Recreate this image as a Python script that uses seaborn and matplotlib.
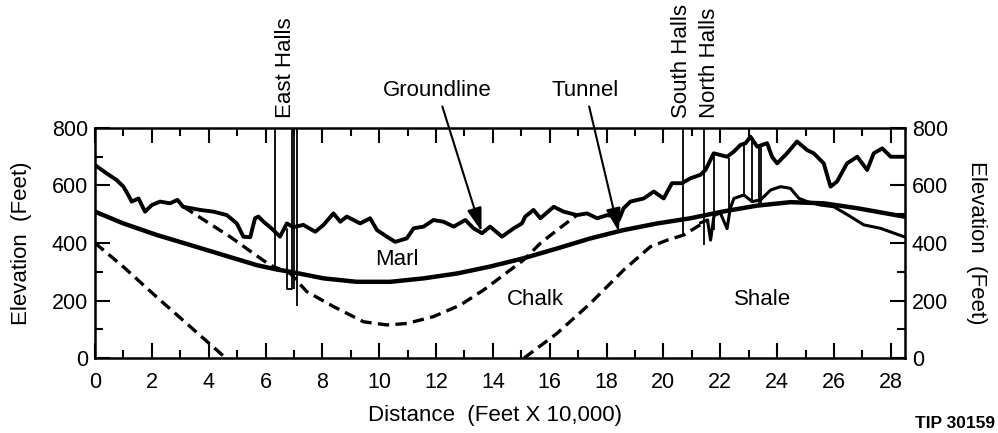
import matplotlib
matplotlib.use('Agg')
import matplotlib.pyplot as plt
import seaborn as sns
from matplotlib.ticker import MultipleLocator

# groundline (surface elevation)
ground_x = [0, 0.41, 0.76, 1.0, 1.17, 1.29, 1.53, 1.76, 2.0, 2.29, 2.64, 2.9, 3.1, 3.7, 4.17, 4.64,
            4.99, 5.22, 5.46, 5.63, 5.75, 5.93, 6.22, 6.51, 6.75, 6.98, 7.33, 7.75, 8.04, 8.39, 8.63,
            8.86, 9.33, 9.68, 9.92, 10.27, 10.56, 10.97, 11.21, 11.56, 11.91, 12.26, 12.62, 13.03,
            13.32, 13.62, 13.9, 14.32, 14.73, 15.02, 15.14, 15.43, 15.67, 16.14, 16.49, 16.96, 17.31,
            17.67, 18.02, 18.31, 18.43, 18.6, 18.84, 19.31, 19.66, 20.01, 20.3, 20.65, 20.95, 21.3,
            21.48, 21.77, 22.24, 22.48, 22.71, 22.89, 23.06, 23.3, 23.47, 23.65, 23.82, 24.0, 24.35,
            24.7, 25.06, 25.29, 25.64, 25.88, 26.11, 26.46, 26.82, 27.17, 27.4, 27.7, 28.0, 28.46]
ground_y = [671, 642, 619, 596, 567, 544, 555, 509, 532, 544, 538, 550, 526, 515, 509, 497,
            468, 422, 420, 486, 492, 474, 450, 422, 468, 455, 463, 439, 463, 503, 474,
            492, 468, 486, 445, 422, 404, 416, 451, 457, 480, 474, 457, 480,
            451, 434, 457, 422, 451, 468, 492, 515, 486, 526, 509, 497, 503,
            486, 497, 492, 480, 521, 544, 555, 579, 555, 608, 608, 625, 637,
            654, 712, 700, 718, 741, 747, 770, 735, 741, 747, 700, 677, 712,
            753, 723, 712, 677, 596, 614, 677, 700, 654, 712, 729, 700, 700]

# tunnel profile (thick smooth line)
tunnel_x = [0, 1.0, 2.17, 3.35, 4.52, 5.69, 6.39, 6.87, 8.04, 9.21, 10.39, 11.56, 12.74, 13.9,
            15.08, 16.26, 17.43, 18.6, 19.78, 20.95, 22.12, 23.3, 24.47, 25.64, 26.82, 28.46]
tunnel_y = [509, 468, 428, 393, 358, 323, 308, 300, 277, 265, 265, 277, 294, 318,
            347, 381, 416, 445, 468, 486, 510, 530, 542, 538, 521, 492]

# marl / chalk contact (dashed)
marl_x = [3.11, 3.93, 4.75, 5.57, 6.16, 6.87, 7.45, 8.39, 9.45, 10.27, 10.97, 11.91, 12.85,
          13.68, 14.26, 15.08, 15.67, 16.26, 16.96]
marl_y = [526, 474, 422, 364, 323, 294, 231, 179, 126, 115, 120, 144, 184,
          237, 280, 341, 399, 445, 497]

# chalk / shale contact (dashed, two pieces)
shale_left_x = [0, 1.0, 2.17, 3.35, 4.6]
shale_left_y = [400, 317, 212, 109, 0]
shale_right_x = [15.1, 16.26, 17.43, 18.6, 19.54, 20.13, 20.72, 21.19, 21.6]
shale_right_y = [0, 86, 190, 306, 387, 410, 428, 457, 480]

# shale top through the north halls (thin solid)
shale_top_x = [21.3, 21.55, 21.66, 21.78, 22.0, 22.24, 22.35, 22.48, 22.83, 23.12, 23.42, 23.77,
               24.12, 24.47, 24.77, 25.06, 25.53, 26.0, 26.58, 27.05, 27.64, 28.46]
shale_top_y = [470, 480, 410, 495, 505, 450, 520, 555, 567, 544, 550, 584,
               596, 590, 555, 544, 532, 526, 492, 463, 451, 422]

# shafts / halls
shaft_x = [6.34, 6.93, 7.0, 7.12, 20.7, 21.42, 21.77, 22.3, 22.83, 23.12, 23.36, 23.45]
shaft_top = [800, 800, 800, 800, 800, 800, 712, 695, 741, 765, 735, 741]
shaft_bot = [310, 240, 240, 180, 425, 393, 445, 480, 567, 550, 532, 535]
hall_u_x = [6.75, 6.75, 6.93]
hall_u_y = [450, 240, 240]

sns.set_style('ticks')
plt.rcParams['font.family'] = ['Liberation Sans', 'DejaVu Sans']
plt.rcParams['text.color'] = 'black'
plt.rcParams['axes.labelcolor'] = 'black'
plt.rcParams['xtick.color'] = 'black'
plt.rcParams['ytick.color'] = 'black'

fig = plt.figure(figsize=(9.98, 4.33), dpi=100)
ax = fig.add_axes([0.0952, 0.1732, 0.8116, 0.5312])

sns.lineplot(x=ground_x, y=ground_y, ax=ax, color='black', lw=2.8, sort=False, estimator=None)
sns.lineplot(x=tunnel_x, y=tunnel_y, ax=ax, color='black', lw=3.2, sort=False, estimator=None)
sns.lineplot(x=shale_top_x, y=shale_top_y, ax=ax, color='black', lw=2.2, sort=False, estimator=None)
dash = (0, (3.4, 1.9))
sns.lineplot(x=marl_x, y=marl_y, ax=ax, color='black', lw=2.4, linestyle=dash, sort=False, estimator=None)
sns.lineplot(x=shale_left_x, y=shale_left_y, ax=ax, color='black', lw=2.4, linestyle=dash, sort=False, estimator=None)
sns.lineplot(x=shale_right_x, y=shale_right_y, ax=ax, color='black', lw=2.4, linestyle=dash, sort=False, estimator=None)

ax.vlines(shaft_x, shaft_bot, shaft_top, color='black', lw=1.3)
ax.plot(hall_u_x, hall_u_y, color='black', lw=1.3)

ax.set_xlim(0, 28.5)
ax.set_ylim(0, 800)
ax.xaxis.set_major_locator(MultipleLocator(2))
ax.xaxis.set_minor_locator(MultipleLocator(1))
ax.yaxis.set_major_locator(MultipleLocator(200))
ax.yaxis.set_minor_locator(MultipleLocator(100))
ax.tick_params(which='both', direction='in', top=True, right=True, labelright=True,
               width=1.5, color='black', labelcolor='black', labelsize=15.5)
ax.tick_params(which='major', length=11)
ax.tick_params(which='minor', length=6)
ax.tick_params(axis='x', pad=10)
ax.tick_params(axis='y', pad=5)
for s in ax.spines.values():
    s.set_visible(True)
    s.set_linewidth(1.8)
    s.set_color('black')

ax.set_xlabel('Distance  (Feet X 10,000)', fontsize=16)
ax.xaxis.set_label_coords(0.494, -0.205)
ax.set_ylabel('Elevation  (Feet)', fontsize=16)
ax.yaxis.set_label_coords(-0.078, 0.5)
ax.text(1.088, 0.5, 'Elevation  (Feet)', transform=ax.transAxes, rotation=270,
        ha='center', va='center', fontsize=16)

# region labels
ax.text(10.62, 341, 'Marl', ha='center', va='center', fontsize=16)
ax.text(15.49, 202, 'Chalk', ha='center', va='center', fontsize=16)
ax.text(23.47, 202, 'Shale', ha='center', va='center', fontsize=16)

# hall labels above the frame
ax.text(6.72, 835, 'East Halls', rotation=90, ha='center', va='bottom', fontsize=16, clip_on=False)
ax.text(20.63, 835, 'South Halls', rotation=90, ha='center', va='bottom', fontsize=16, clip_on=False)
ax.text(21.62, 835, 'North Halls', rotation=90, ha='center', va='bottom', fontsize=16, clip_on=False)

arrow = dict(arrowstyle='-|>,head_length=0.8,head_width=0.25', color='black', lw=1.5,
             mutation_scale=18, shrinkA=2, shrinkB=0)
ax.annotate('Groundline', xy=(13.6, 440), xytext=(12.04, 932), ha='center', va='center',
            fontsize=16, arrowprops=arrow, annotation_clip=False)
ax.annotate('Tunnel', xy=(18.43, 439), xytext=(17.25, 932), ha='center', va='center',
            fontsize=16, arrowprops=arrow, annotation_clip=False)

fig.text(0.917, 0.04, 'TIP 30159', fontsize=12.5, fontweight='bold', va='top')

fig.savefig('out.png', dpi=100)
